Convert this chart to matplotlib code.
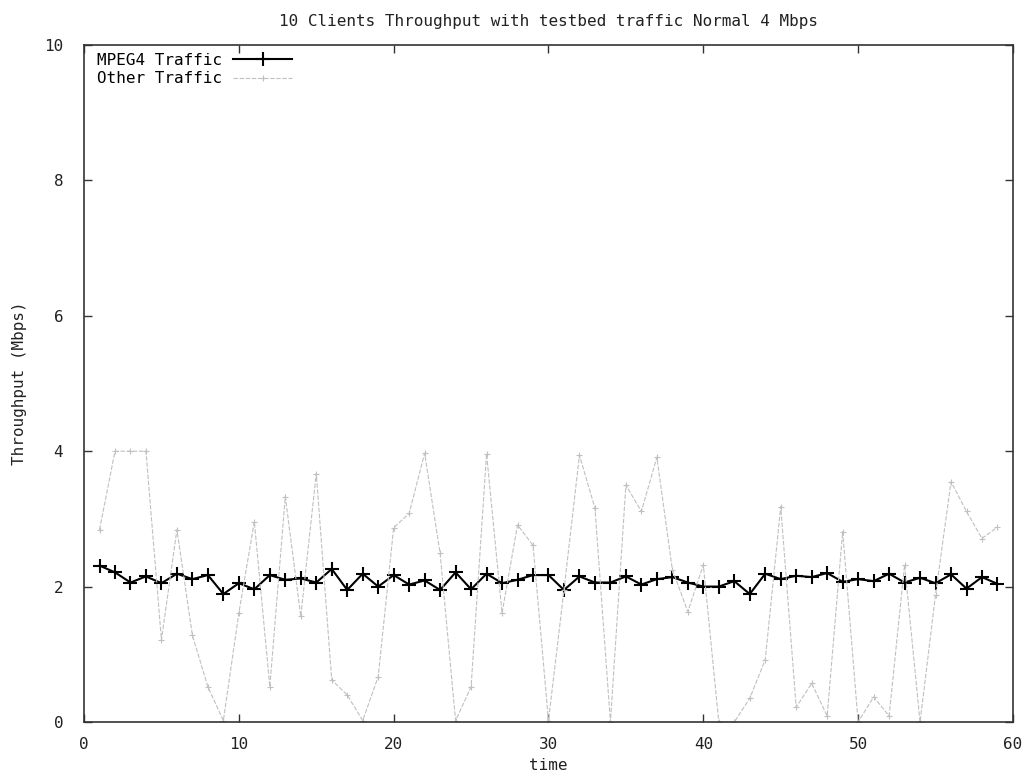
## plot throughput of MPEG4 vs other traffic

import numpy as np
import matplotlib.pyplot as plt

#######################
time = np.arange(1, 60)

mpeg4 = [2.31, 2.21, 2.06, 2.15, 2.05, 2.19, 2.11, 2.17, 1.89, 2.05,
         1.96, 2.17, 2.10, 2.12, 2.06, 2.26, 1.95, 2.19, 2.00, 2.17,
         2.03, 2.09, 1.95, 2.21, 1.96, 2.19, 2.05, 2.10, 2.17, 2.17,
         1.95, 2.15, 2.06, 2.06, 2.15, 2.03, 2.11, 2.14, 2.06, 2.00,
         2.00, 2.08, 1.89, 2.19, 2.11, 2.16, 2.14, 2.20, 2.07, 2.11,
         2.08, 2.19, 2.06, 2.13, 2.05, 2.18, 1.97, 2.14, 2.04]

other = [2.84, 4.00, 4.00, 4.00, 1.21, 2.84, 1.28, 0.52, 0.02, 1.61,
         2.96, 0.52, 3.33, 1.56, 3.67, 0.62, 0.40, 0.02, 0.67, 2.87,
         3.08, 3.97, 2.49, 0.02, 0.52, 3.96, 1.61, 2.91, 2.61, 0.02,
         1.95, 3.94, 3.16, 0.00, 3.50, 3.11, 3.91, 2.25, 1.63, 2.32,
         0.00, 0.00, 0.35, 0.92, 3.18, 0.22, 0.57, 0.09, 2.81, 0.00,
         0.37, 0.09, 2.32, 0.00, 1.88, 3.55, 3.11, 2.71, 2.88]

xticks = [0, 10, 20, 30, 40, 50, 60]
yticks = [0, 2, 4, 6, 8, 10]

plt.rcParams['font.family'] = 'DejaVu Sans Mono'
plt.rcParams['font.size'] = 11.5

fig = plt.figure(figsize=(10.31, 7.74), dpi=100)
ax = fig.add_axes([0.0815, 0.0672, 0.901, 0.8747])

ax.plot(time, mpeg4, color='black', lw=1.5, marker='+', ms=10, mew=1.5,
        label='MPEG4 Traffic')
ax.plot(time, other, color='#c0c0c0', lw=0.8, ls=(0, (4, 1.5)), marker='+',
        ms=5, mew=0.8, label='Other Traffic')

ax.set_xlim(0, 60)
ax.set_ylim(0, 10)
ax.set_xticks(xticks)
ax.set_yticks(yticks)
ax.tick_params(direction='in', top=True, right=True, length=6, width=1,
               colors='#333333', labelcolor='#222222')
ax.tick_params(axis='y', pad=15)
ax.tick_params(axis='x', pad=11)
for s in ax.spines.values():
    s.set_linewidth(1.2)
    s.set_color('#333333')

ax.set_title('10 Clients Throughput with testbed traffic Normal 4 Mbps',
             fontsize=11.5, pad=14, color='#222222')
ax.set_xlabel('time', color='#222222', labelpad=4)
ax.set_ylabel('Throughput (Mbps)', color='#222222', labelpad=12)

ax.legend(loc='upper left', bbox_to_anchor=(0.005, 1.0), frameon=False,
          markerfirst=False, handlelength=3.7, borderaxespad=0.3,
          labelspacing=0.2, handletextpad=0.7, borderpad=0.2)

plt.savefig('out.png', dpi=100)
